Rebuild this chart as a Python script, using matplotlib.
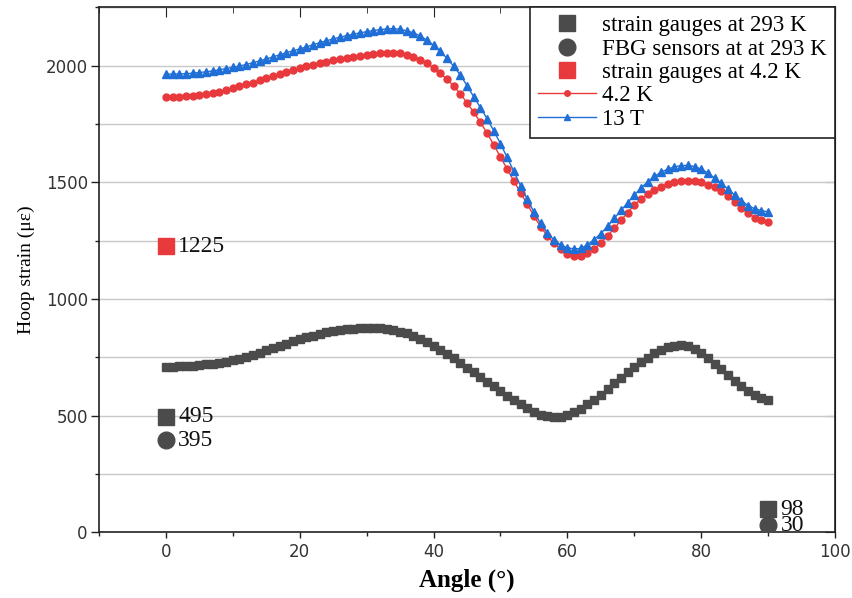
"""
Hoop strain versus angle: FE curves at 293 K, 4.2 K and 13 T with gauge / FBG readings.
"""
import matplotlib
matplotlib.use("Agg")
import matplotlib.pyplot as plt
from matplotlib.lines import Line2D
from matplotlib.ticker import MultipleLocator

angle = list(range(91))

strain_293k = [
    710, 710, 711, 712, 714, 716, 719, 722, 726, 731,
    737, 744, 751, 760, 769, 779, 789, 798, 808, 818,
    827, 835, 843, 850, 856, 861, 866, 870, 873, 875,
    876, 876, 874, 871, 866, 860, 852, 842, 830, 815,
    799, 782, 764, 745, 725, 705, 685, 665, 645, 625,
    605, 585, 566, 548, 531, 516, 504, 496, 493, 495,
    503, 515, 530, 548, 568, 590, 614, 638, 662, 686,
    708, 729, 748, 766, 781, 792, 799, 801, 797, 785,
    767, 746, 723, 699, 674, 650, 627, 606, 589, 575,
    565,
]

strain_4k = [
    1866, 1866, 1867, 1868, 1870, 1873, 1877, 1882, 1888, 1895,
    1903, 1911, 1919, 1927, 1936, 1945, 1954, 1963, 1972, 1980,
    1988, 1996, 2003, 2010, 2016, 2022, 2028, 2033, 2038, 2042,
    2046, 2050, 2053, 2055, 2055, 2053, 2047, 2038, 2025, 2009,
    1990, 1967, 1941, 1912, 1879, 1840, 1800, 1757, 1710, 1660,
    1608, 1556, 1505, 1455, 1406, 1355, 1309, 1270, 1238, 1212,
    1194, 1183, 1185, 1195, 1214, 1240, 1270, 1302, 1336, 1370,
    1402, 1428, 1448, 1465, 1480, 1492, 1500, 1505, 1506, 1504,
    1499, 1490, 1478, 1462, 1440, 1415, 1390, 1366, 1348, 1337,
    1331,
]

strain_13t = [
    1963, 1963, 1964, 1965, 1967, 1970, 1973, 1977, 1982, 1987,
    1992, 1998, 2004, 2012, 2020, 2028, 2037, 2046, 2055, 2063,
    2071, 2080, 2089, 2098, 2106, 2114, 2121, 2128, 2134, 2140,
    2145, 2150, 2154, 2157, 2158, 2155, 2149, 2140, 2127, 2109,
    2087, 2061, 2031, 1997, 1959, 1914, 1866, 1820, 1772, 1720,
    1665, 1606, 1546, 1485, 1427, 1372, 1323, 1283, 1252, 1231,
    1219, 1214, 1216, 1232, 1254, 1280, 1311, 1345, 1379, 1412,
    1445, 1475, 1502, 1525, 1543, 1556, 1566, 1571, 1572, 1567,
    1556, 1539, 1518, 1495, 1470, 1445, 1421, 1400, 1386, 1378,
    1373,
]

# measured points
gauge_293k_x = [0, 90]
gauge_293k_y = [495, 98]
fbg_293k_x = [0, 90]
fbg_293k_y = [395, 30]
gauge_4k_x = [0]
gauge_4k_y = [1225]

GRAY = "#4b4b4b"
RED = "#e8393c"
BLUE = "#1f6fd6"
SERIF = ["Liberation Serif", "DejaVu Serif"]

fig = plt.figure(figsize=(8.53, 5.98), dpi=100)
ax = fig.add_axes([0.116, 0.110, 0.863, 0.878])

ax.plot(angle, strain_293k, color=GRAY, lw=1, marker="s", ms=6, mec=GRAY, zorder=3)
ax.plot(angle, strain_4k, color=RED, lw=1, marker="o", ms=5, mec=RED, zorder=3)
ax.plot(angle, strain_13t, color=BLUE, lw=1, marker="^", ms=6, mec=BLUE, zorder=3)

ax.plot(gauge_293k_x, gauge_293k_y, ls="none", marker="s", ms=11, color=GRAY, zorder=4)
ax.plot(fbg_293k_x, fbg_293k_y, ls="none", marker="o", ms=12, color=GRAY, zorder=4)
ax.plot(gauge_4k_x, gauge_4k_y, ls="none", marker="s", ms=11, color=RED, zorder=4)

for xs, ys in [(gauge_293k_x, gauge_293k_y), (fbg_293k_x, fbg_293k_y), (gauge_4k_x, gauge_4k_y)]:
    for x, y in zip(xs, ys):
        ax.annotate(str(y), (x, y), xytext=(9, 0), textcoords="offset points",
                    va="center", ha="left", fontsize=17, family=SERIF,
                    color="#111111", zorder=5)

ax.set_xlim(-10, 100)
ax.set_ylim(0, 2250)
ax.xaxis.set_major_locator(MultipleLocator(20))
ax.xaxis.set_minor_locator(MultipleLocator(10))
ax.yaxis.set_major_locator(MultipleLocator(500))
ax.yaxis.set_minor_locator(MultipleLocator(250))

ax.grid(axis="y", which="both", color="#c8c8c8", lw=1)
ax.set_axisbelow(True)

ax.tick_params(axis="both", which="both", direction="out", colors="#222222",
               labelcolor="#333333", labelsize=12, width=1)
ax.tick_params(axis="x", which="major", length=4)
ax.tick_params(axis="x", which="minor", length=3)
ax.tick_params(axis="y", which="major", length=6, pad=2)
ax.tick_params(axis="y", which="minor", length=3)
for lab in ax.get_xticklabels() + ax.get_yticklabels():
    lab.set_family("DejaVu Sans")

# mirrored ticks on top and right pointing inward
top = ax.secondary_xaxis("top")
top.xaxis.set_major_locator(MultipleLocator(20))
top.xaxis.set_minor_locator(MultipleLocator(10))
top.tick_params(which="both", direction="in", labeltop=False, colors="#222222")
top.tick_params(which="major", length=7)
top.tick_params(which="minor", length=4)
right = ax.secondary_yaxis("right")
right.yaxis.set_major_locator(MultipleLocator(500))
right.yaxis.set_minor_locator(MultipleLocator(250))
right.tick_params(which="both", direction="in", labelright=False, colors="#222222")
right.tick_params(which="major", length=7)
right.tick_params(which="minor", length=4)

for sp in ax.spines.values():
    sp.set_color("#222222")
    sp.set_linewidth(1.2)

ax.set_xlabel("Angle (°)", fontsize=18, fontweight="bold", family=SERIF, labelpad=6)
ax.set_ylabel("Hoop strain (με)", fontsize=14, family=SERIF, labelpad=8)

handles = [
    Line2D([], [], ls="none", marker="s", ms=11, color=GRAY),
    Line2D([], [], ls="none", marker="o", ms=12, color=GRAY),
    Line2D([], [], ls="none", marker="s", ms=11, color=RED),
    Line2D([], [], color=RED, lw=1, marker="o", ms=4),
    Line2D([], [], color=BLUE, lw=1, marker="^", ms=5),
]
labels = [
    "strain gauges at 293 K",
    "FBG sensors at at 293 K",
    "strain gauges at 4.2 K",
    "4.2 K",
    "13 T",
]
leg = ax.legend(handles, labels, loc="upper right", borderaxespad=0,
                prop={"family": SERIF, "size": 16.5}, fancybox=False,
                edgecolor="#222222", framealpha=1, handlelength=2.5,
                handletextpad=0.3, labelspacing=0.1, borderpad=0.35)
leg.get_frame().set_linewidth(1.2)
leg.set_zorder(6)

fig.savefig("out.png", dpi=100)
